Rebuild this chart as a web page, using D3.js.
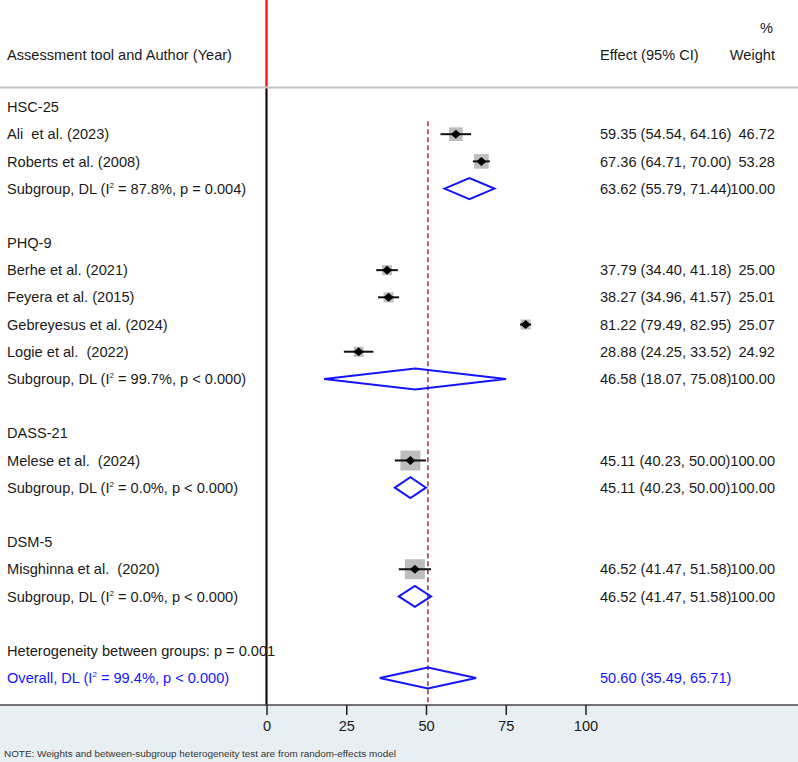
<!DOCTYPE html>
<html>
<head>
<meta charset="utf-8">
<script src="https://cdn.jsdelivr.net/npm/d3@7"></script>
<style>
  body { margin: 0; background: #fff; }
  svg text { font-family: "Liberation Sans", Arial, sans-serif; white-space: pre; }
</style>
</head>
<body>
<svg id="chart" width="798" height="762"></svg>
<script>
  // Subgroups (assessment tool)
  const groups = ["HSC-25", "PHQ-9", "DASS-21", "DSM-5"];
  const subES = [63.62, 46.58, 45.11, 46.52];
  const subLo = [55.79, 18.07, 40.23, 41.47];
  const subHi = [71.44, 75.08, 50.00, 51.58];
  const subI2 = ["87.8%", "99.7%", "0.0%", "0.0%"];
  const subP = ["p = 0.004", "p < 0.000", "p < 0.000", "p < 0.000"];

  // Studies
  const studyNames = ["Ali  et al. (2023)", "Roberts et al. (2008)", "Berhe et al. (2021)", "Feyera et al. (2015)",
    "Gebreyesus et al. (2024)", "Logie et al.  (2022)", "Melese et al.  (2024)", "Misghinna et al.  (2020)"];
  const studyGroup = [0, 0, 1, 1, 1, 1, 2, 3];
  const studyES = [59.35, 67.36, 37.79, 38.27, 81.22, 28.88, 45.11, 46.52];
  const studyLo = [54.54, 64.71, 34.40, 34.96, 79.49, 24.25, 40.23, 41.47];
  const studyHi = [64.16, 70.00, 41.18, 41.57, 82.95, 33.52, 50.00, 51.58];
  const studyW = [46.72, 53.28, 25.00, 25.01, 25.07, 24.92, 100.00, 100.00];

  // Overall
  const overallES = 50.60, overallLo = 35.49, overallHi = 65.71;
  const overallI2 = "99.4%", overallP = "p < 0.000";
  const hetBetween = "Heterogeneity between groups: p = 0.001";

  const ticks = [0, 25, 50, 75, 100];

  const W = 798, H = 762;
  const fs = 14.6;
  const txt = "#1a1a1a", blue = "#1414ff";
  const effX = 600, wtX = 775;
  const headerY = 87.5, axisY = 705;

  // build rows
  const rows = [];
  groups.forEach((g, gi) => {
    rows.push({ type: "head", label: g });
    studyNames.forEach((s, si) => {
      if (studyGroup[si] === gi) rows.push({ type: "study", label: s, es: studyES[si], lo: studyLo[si], hi: studyHi[si], w: studyW[si] });
    });
    rows.push({ type: "sub", i2: subI2[gi], p: subP[gi], es: subES[gi], lo: subLo[gi], hi: subHi[gi], w: 100 });
    rows.push({ type: "blank" });
  });
  rows.push({ type: "het", label: hetBetween });
  rows.push({ type: "overall", i2: overallI2, p: overallP, es: overallES, lo: overallLo, hi: overallHi });

  const x = d3.scaleLinear().domain([0, 100]).range([266.5, 585.5]);
  const y = d3.scaleLinear().domain([0, rows.length - 1]).range([107, 678]);

  const svg = d3.select("#chart");

  // bottom band
  svg.append("rect").attr("x", 0).attr("y", axisY).attr("width", W).attr("height", H - axisY).attr("fill", "#e8eff2");

  // header
  svg.append("text").attr("x", 7).attr("y", 55).attr("dy", "0.35em").attr("font-size", fs).attr("fill", txt)
    .text("Assessment tool and Author (Year)");
  svg.append("text").attr("x", effX).attr("y", 55).attr("dy", "0.35em").attr("font-size", fs).attr("fill", txt)
    .text("Effect (95% CI)");
  svg.append("text").attr("x", wtX).attr("y", 55).attr("dy", "0.35em").attr("text-anchor", "end").attr("font-size", fs).attr("fill", txt)
    .text("Weight");
  svg.append("text").attr("x", wtX - 2).attr("y", 28).attr("dy", "0.35em").attr("text-anchor", "end").attr("font-size", fs).attr("fill", txt)
    .text("%");

  svg.append("line").attr("x1", 0).attr("x2", W).attr("y1", headerY).attr("y2", headerY)
    .attr("stroke", "#c4c4c4").attr("stroke-width", 2);

  // null line
  svg.append("line").attr("x1", x(0)).attr("x2", x(0)).attr("y1", 0).attr("y2", headerY - 1)
    .attr("stroke", "#ff1a1a").attr("stroke-width", 2.5);
  svg.append("line").attr("x1", x(0)).attr("x2", x(0)).attr("y1", headerY + 1).attr("y2", axisY)
    .attr("stroke", "#b03030").attr("stroke-width", 2.5);
  svg.append("line").attr("x1", x(0)).attr("x2", x(0)).attr("y1", headerY + 1).attr("y2", axisY)
    .attr("stroke", "#1a0505").attr("stroke-width", 1.2);

  // overall dashed line
  svg.append("line").attr("x1", x(overallES)).attr("x2", x(overallES)).attr("y1", y(1) - 13).attr("y2", axisY)
    .attr("stroke", "#a3303c").attr("stroke-width", 1.5).attr("stroke-dasharray", "5,3");

  // axis
  svg.append("line").attr("x1", 0).attr("x2", W).attr("y1", axisY).attr("y2", axisY)
    .attr("stroke", "#444").attr("stroke-width", 1.5);
  const axis = svg.append("g").attr("transform", `translate(0,${axisY})`)
    .call(d3.axisBottom(x).tickValues(ticks).tickSize(10).tickPadding(6).tickFormat(d3.format("d")));
  axis.select(".domain").remove();
  axis.selectAll(".tick line").attr("stroke", "#222").attr("stroke-width", 1.5);
  axis.selectAll(".tick text").attr("font-size", fs).attr("fill", txt)
    .attr("font-family", "Liberation Sans, Arial, sans-serif");

  // note
  svg.append("text").attr("x", 4).attr("y", 754).attr("dy", "0.35em").attr("font-size", 8.5).attr("fill", "#333")
    .attr("textLength", 392).attr("lengthAdjust", "spacingAndGlyphs")
    .text("NOTE: Weights and between-subgroup heterogeneity test are from random-effects model");

  const fmt = d3.format(".2f");

  function subLabel(sel, r, color) {
    const t = sel.append("text").attr("x", 7).attr("y", 0).attr("dy", "0.35em").attr("font-size", fs).attr("fill", color);
    t.append("tspan").text(r.type === "overall" ? "Overall, DL (I" : "Subgroup, DL (I");
    t.append("tspan").attr("font-size", 8).attr("dy", -6).text("2");
    t.append("tspan").attr("dy", 6).text(` = ${r.i2}, ${r.p})`);
  }

  function diamond(sel, r) {
    const h = 10.5;
    sel.append("path")
      .attr("d", `M${x(r.lo)},0 L${x(r.es)},${-h} L${x(r.hi)},0 L${x(r.es)},${h} Z`)
      .attr("fill", "none").attr("stroke", blue).attr("stroke-width", 2).attr("stroke-linejoin", "miter");
  }

  rows.forEach((r, i) => {
    const g = svg.append("g").attr("transform", `translate(0,${y(i)})`);
    if (r.type === "head" || r.type === "het") {
      g.append("text").attr("x", 7).attr("dy", "0.35em").attr("font-size", fs).attr("fill", txt).text(r.label);
    } else if (r.type === "study") {
      g.append("text").attr("x", 7).attr("dy", "0.35em").attr("font-size", fs).attr("fill", txt).text(r.label);
      const s = Math.sqrt(r.w) * 2;
      g.append("rect").attr("x", x(r.es) - s / 2).attr("y", -s / 2).attr("width", s).attr("height", s)
        .attr("fill", "#bdbdbd");
      g.append("line").attr("x1", x(r.lo)).attr("x2", x(r.hi)).attr("y1", 0).attr("y2", 0)
        .attr("stroke", "#111").attr("stroke-width", 2);
      const dx = 5, dy = 4.5;
      g.append("path").attr("d", `M${x(r.es) - dx},0 L${x(r.es)},${-dy} L${x(r.es) + dx},0 L${x(r.es)},${dy} Z`)
        .attr("fill", "#000");
      g.append("text").attr("x", effX).attr("dy", "0.35em").attr("font-size", fs).attr("fill", txt)
        .text(`${fmt(r.es)} (${fmt(r.lo)}, ${fmt(r.hi)})`);
      g.append("text").attr("x", wtX).attr("dy", "0.35em").attr("text-anchor", "end").attr("font-size", fs).attr("fill", txt)
        .text(fmt(r.w));
    } else if (r.type === "sub") {
      subLabel(g, r, txt);
      diamond(g, r);
      g.append("text").attr("x", effX).attr("dy", "0.35em").attr("font-size", fs).attr("fill", txt)
        .text(`${fmt(r.es)} (${fmt(r.lo)}, ${fmt(r.hi)})`);
      g.append("text").attr("x", wtX).attr("dy", "0.35em").attr("text-anchor", "end").attr("font-size", fs).attr("fill", txt)
        .text(fmt(r.w));
    } else if (r.type === "overall") {
      subLabel(g, r, blue);
      diamond(g, r);
      g.append("text").attr("x", effX).attr("dy", "0.35em").attr("font-size", fs).attr("fill", blue)
        .text(`${fmt(r.es)} (${fmt(r.lo)}, ${fmt(r.hi)})`);
    }
  });
</script>
</body>
</html>
